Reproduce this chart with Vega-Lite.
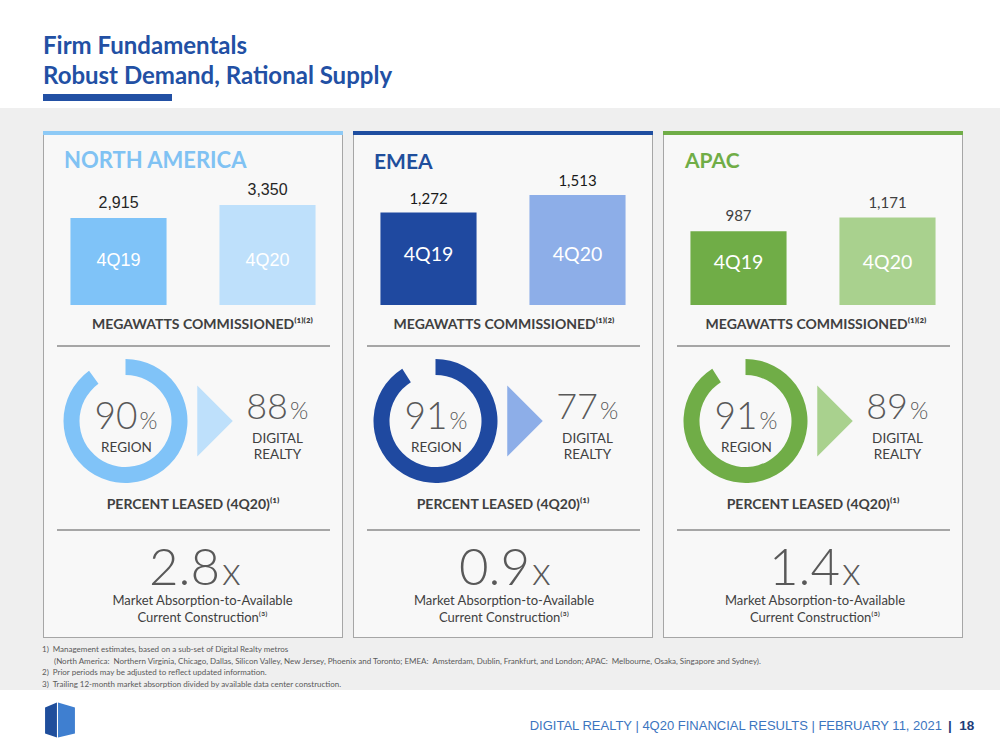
{
  "$schema": "https://vega.github.io/schema/vega-lite/v6.json",
  "background": "white",
  "padding": {"top": 35, "left": 0, "right": 0, "bottom": 0},
  "title": {"text": ["Firm Fundamentals", "Robust Demand, Rational Supply"], "anchor": "start", "frame": "bounds", "dx": 43, "offset": 5, "fontSize": 24, "fontWeight": "bold", "color": "#2250a4", "lineHeight": 30, "font": "Lato"},
  "config": {"view": {"stroke": null}, "font": "Lato", "concat": {"spacing": 0}},
  "datasets": {
    "bars": [
      {"region": "North America", "quarter": "4Q19", "mw": 2915},
      {"region": "North America", "quarter": "4Q20", "mw": 3350},
      {"region": "EMEA", "quarter": "4Q19", "mw": 1272},
      {"region": "EMEA", "quarter": "4Q20", "mw": 1513},
      {"region": "APAC", "quarter": "4Q19", "mw": 987},
      {"region": "APAC", "quarter": "4Q20", "mw": 1171}
    ],
    "leased": [
      {"region": "North America", "part": "Region", "pct": 90},
      {"region": "North America", "part": "Remaining", "pct": 10},
      {"region": "EMEA", "part": "Region", "pct": 91},
      {"region": "EMEA", "part": "Remaining", "pct": 9},
      {"region": "APAC", "part": "Region", "pct": 91},
      {"region": "APAC", "part": "Remaining", "pct": 9}
    ],
    "stats": [
      {"region": "North America", "name": "NORTH AMERICA", "region_leased": 90, "dlr_leased": 88, "absorption": 2.8},
      {"region": "EMEA", "name": "EMEA", "region_leased": 91, "dlr_leased": 77, "absorption": 0.9},
      {"region": "APAC", "name": "APAC", "region_leased": 91, "dlr_leased": 89, "absorption": 1.4}
    ]
  },
  "spacing": 0,
  "vconcat": [
    {"spacing": 0, "hconcat": [
      {"width": 43, "height": 7, "data": {"values": []}, "mark": "rect"},
      {"width": 129, "height": 7, "data": {"values": []}, "mark": "rect", "view": {"fill": "#2250a4"}}
    ]},
    {"width": 1000, "height": 7, "data": {"values": []}, "mark": "rect"},
    {"width": 1000, "height": 23, "data": {"values": []}, "mark": "rect", "view": {"fill": "#efefef"}},
    {"spacing": 0, "hconcat": [
      {"width": 43, "height": 507, "data": {"values": []}, "mark": "rect", "view": {"fill": "#efefef"}},
      {"spacing": 0, "vconcat": [
        {"width": 300, "height": 4, "data": {"values": []}, "mark": "rect", "view": {"fill": "#8ecaf6"}},
        {"spacing": 0, "hconcat": [
          {"width": 1, "height": 502, "data": {"values": []}, "mark": "rect", "view": {"fill": "#a6a6a6"}},
          {"spacing": 0, "vconcat": [
            {"width": 298, "height": 170, "view": {"fill": "#f8f8f8"}, "layer": [
              {"data": {"name": "bars"}, "transform": [{"filter": "datum.region === 'North America'"}],
               "mark": {"type": "bar", "width": {"band": 0.645}},
               "encoding": {
                 "x": {"field": "quarter", "type": "nominal", "sort": ["4Q19", "4Q20"], "scale": {"paddingInner": 0, "paddingOuter": 0}, "axis": {"title": null, "labels": false, "ticks": false, "domainColor": "#595959", "domainWidth": 1, "grid": false}},
                 "y": {"field": "mw", "type": "quantitative", "scale": {"domain": [0, 5695], "nice": false}, "axis": null},
                 "color": {"condition": {"test": "datum.quarter === '4Q19'", "value": "#7fc3f8"}, "value": "#bee0fb"}}},
              {"data": {"name": "bars"}, "transform": [{"filter": "datum.region === 'North America'"}],
               "mark": {"type": "text", "baseline": "middle", "dy": -15, "font": "Liberation Sans", "fontSize": 16, "color": "#262626"},
               "encoding": {"x": {"field": "quarter", "type": "nominal", "sort": ["4Q19", "4Q20"]}, "y": {"field": "mw", "type": "quantitative"}, "text": {"field": "mw", "type": "quantitative", "format": ","}}},
              {"data": {"name": "bars"}, "transform": [{"filter": "datum.region === 'North America'"}],
               "mark": {"type": "text", "baseline": "middle", "dy": -44.5, "font": "Liberation Sans", "fontSize": 18, "color": "white"},
               "encoding": {"x": {"field": "quarter", "type": "nominal", "sort": ["4Q19", "4Q20"]}, "y": {"datum": 0, "type": "quantitative"}, "text": {"field": "quarter", "type": "nominal"}}},
              {"data": {"name": "stats"}, "transform": [{"filter": "datum.region === 'North America'"}],
               "mark": {"type": "text", "align": "left", "baseline": "middle", "dx": 20, "dy": 26, "fontSize": 22, "fontWeight": "bold", "color": "#80c2f3"},
               "encoding": {"x": {"datum": "4Q19", "type": "nominal", "bandPosition": 0}, "y": {"datum": 5695, "type": "quantitative"}, "text": {"field": "name", "type": "nominal"}}}
            ]},
            {"width": 298, "height": 40, "view": {"fill": "#f8f8f8"}, "data": {"values": [{}]}, "mark": {"type": "text", "text": "MEGAWATTS COMMISSIONED⁽¹⁾⁽²⁾", "fontSize": 14, "fontWeight": "bold", "color": "#404040", "baseline": "middle", "dx": 9.5}},
            {"spacing": 0, "hconcat": [
              {"width": 13, "height": 2, "data": {"values": []}, "mark": "rect", "view": {"fill": "#f8f8f8"}},
              {"width": 273, "height": 2, "data": {"values": []}, "mark": "rect", "view": {"fill": "#a6a6a6"}},
              {"width": 12, "height": 2, "data": {"values": []}, "mark": "rect", "view": {"fill": "#f8f8f8"}}
            ]},
            {"spacing": 0, "hconcat": [
              {"width": 10, "height": 148, "data": {"values": []}, "mark": "rect", "view": {"fill": "#f8f8f8"}},
              {"width": 143, "height": 148, "view": {"fill": "#f8f8f8"}, "layer": [
                {"data": {"name": "leased"}, "transform": [{"filter": "datum.region === 'North America'"}],
                 "mark": {"type": "arc", "radius": 62, "radius2": 46},
                 "encoding": {"theta": {"field": "pct", "type": "quantitative", "stack": true}, "detail": {"field": "part", "type": "nominal"}, "order": {"field": "pct", "type": "quantitative", "sort": "descending"}, "color": {"condition": {"test": "datum.part === 'Region'", "value": "#80c3f8"}, "value": "transparent"}}},
                {"data": {"name": "stats"}, "transform": [{"filter": "datum.region === 'North America'"}],
                 "mark": {"type": "text", "align": "right", "baseline": "alphabetic", "dx": 12, "dy": 8, "fontSize": 37, "fontWeight": 300, "color": "#595959"},
                 "encoding": {"text": {"field": "region_leased", "type": "quantitative"}}},
                {"data": {"values": [{}]}, "mark": {"type": "text", "text": "%", "align": "left", "baseline": "alphabetic", "dx": 14, "dy": 8, "fontSize": 23, "fontWeight": 300, "color": "#595959"}},
                {"data": {"values": [{}]}, "mark": {"type": "text", "text": "REGION", "baseline": "middle", "dx": 1, "dy": 26.5, "fontSize": 13.5, "color": "#404040"}}
              ]},
              {"width": 36, "height": 148, "view": {"fill": "#f8f8f8"}, "data": {"values": [{}]}, "mark": {"type": "point", "shape": "M-0.5,-1L0.5,0L-0.5,1Z", "size": 5041, "filled": true, "opacity": 1, "color": "#bee0fb", "strokeWidth": 0}},
              {"width": 109, "height": 148, "view": {"fill": "#f8f8f8"}, "layer": [
                {"data": {"name": "stats"}, "transform": [{"filter": "datum.region === 'North America'"}],
                 "mark": {"type": "text", "align": "right", "baseline": "alphabetic", "dx": 0.5, "dy": -2.3, "fontSize": 36, "fontWeight": 300, "color": "#595959"},
                 "encoding": {"text": {"field": "dlr_leased", "type": "quantitative"}}},
                {"data": {"values": [{}]}, "mark": {"type": "text", "text": "%", "align": "left", "baseline": "alphabetic", "dx": 2.5, "dy": -2.3, "fontSize": 23.5, "fontWeight": 300, "color": "#595959"}},
                {"data": {"values": [{}]}, "mark": {"type": "text", "text": "DIGITAL", "baseline": "middle", "dx": -10, "dy": 17.7, "fontSize": 13.5, "color": "#404040"}},
                {"data": {"values": [{}]}, "mark": {"type": "text", "text": "REALTY", "baseline": "middle", "dx": -10, "dy": 34, "fontSize": 13.5, "color": "#404040"}}
              ]}
            ]},
            {"width": 298, "height": 34, "view": {"fill": "#f8f8f8"}, "data": {"values": [{}]}, "mark": {"type": "text", "text": "PERCENT LEASED (4Q20)⁽¹⁾", "fontSize": 14, "fontWeight": "bold", "color": "#404040", "baseline": "middle", "dy": -7}},
            {"spacing": 0, "hconcat": [
              {"width": 13, "height": 2, "data": {"values": []}, "mark": "rect", "view": {"fill": "#f8f8f8"}},
              {"width": 273, "height": 2, "data": {"values": []}, "mark": "rect", "view": {"fill": "#a6a6a6"}},
              {"width": 12, "height": 2, "data": {"values": []}, "mark": "rect", "view": {"fill": "#f8f8f8"}}
            ]},
            {"width": 298, "height": 106, "view": {"fill": "#f8f8f8"}, "layer": [
              {"data": {"name": "stats"}, "transform": [{"filter": "datum.region === 'North America'"}],
               "mark": {"type": "text", "align": "right", "baseline": "alphabetic", "dx": 27, "dy": 1, "fontSize": 51, "fontWeight": 300, "color": "#595959"},
               "encoding": {"text": {"field": "absorption", "type": "quantitative", "format": ".1f"}}},
              {"data": {"values": [{}]}, "mark": {"type": "text", "text": "x", "align": "left", "baseline": "alphabetic", "dx": 29, "dy": 1, "fontSize": 40, "fontWeight": 300, "color": "#595959"}},
              {"data": {"values": [{}]}, "mark": {"type": "text", "text": "Market Absorption-to-Available", "baseline": "middle", "dx": 9.5, "dy": 17, "fontSize": 13, "color": "#404040"}},
              {"data": {"values": [{}]}, "mark": {"type": "text", "text": "Current Construction⁽³⁾", "baseline": "middle", "dx": 9.5, "dy": 34, "fontSize": 13, "color": "#404040"}}
            ]}
          ]},
          {"width": 1, "height": 502, "data": {"values": []}, "mark": "rect", "view": {"fill": "#a6a6a6"}}
        ]},
        {"width": 300, "height": 1, "data": {"values": []}, "mark": "rect", "view": {"fill": "#a6a6a6"}}
      ]},
      {"width": 10, "height": 507, "data": {"values": []}, "mark": "rect", "view": {"fill": "#efefef"}},
      {"spacing": 0, "vconcat": [
        {"width": 300, "height": 4, "data": {"values": []}, "mark": "rect", "view": {"fill": "#1f4ea0"}},
        {"spacing": 0, "hconcat": [
          {"width": 1, "height": 502, "data": {"values": []}, "mark": "rect", "view": {"fill": "#a6a6a6"}},
          {"spacing": 0, "vconcat": [
            {"width": 298, "height": 170, "view": {"fill": "#f8f8f8"}, "layer": [
              {"data": {"name": "bars"}, "transform": [{"filter": "datum.region === 'EMEA'"}],
               "mark": {"type": "bar", "width": {"band": 0.645}},
               "encoding": {
                 "x": {"field": "quarter", "type": "nominal", "sort": ["4Q19", "4Q20"], "scale": {"paddingInner": 0, "paddingOuter": 0}, "axis": {"title": null, "labels": false, "ticks": false, "domainColor": "#595959", "domainWidth": 1, "grid": false}},
                 "y": {"field": "mw", "type": "quantitative", "scale": {"domain": [0, 2338], "nice": false}, "axis": null},
                 "color": {"condition": {"test": "datum.quarter === '4Q19'", "value": "#1f49a0"}, "value": "#8daee8"}}},
              {"data": {"name": "bars"}, "transform": [{"filter": "datum.region === 'EMEA'"}],
               "mark": {"type": "text", "baseline": "middle", "dy": -13.5, "fontSize": 15, "color": "#1a1a1a"},
               "encoding": {"x": {"field": "quarter", "type": "nominal", "sort": ["4Q19", "4Q20"]}, "y": {"field": "mw", "type": "quantitative"}, "text": {"field": "mw", "type": "quantitative", "format": ","}}},
              {"data": {"name": "bars"}, "transform": [{"filter": "datum.region === 'EMEA'"}],
               "mark": {"type": "text", "baseline": "middle", "dy": -50.5, "fontSize": 19.5, "color": "white"},
               "encoding": {"x": {"field": "quarter", "type": "nominal", "sort": ["4Q19", "4Q20"]}, "y": {"datum": 0, "type": "quantitative"}, "text": {"field": "quarter", "type": "nominal"}}},
              {"data": {"name": "stats"}, "transform": [{"filter": "datum.region === 'EMEA'"}],
               "mark": {"type": "text", "align": "left", "baseline": "middle", "dx": 20, "dy": 27.5, "fontSize": 21, "fontWeight": "bold", "color": "#1f4e9c"},
               "encoding": {"x": {"datum": "4Q19", "type": "nominal", "bandPosition": 0}, "y": {"datum": 2338, "type": "quantitative"}, "text": {"field": "name", "type": "nominal"}}}
            ]},
            {"width": 298, "height": 40, "view": {"fill": "#f8f8f8"}, "data": {"values": [{}]}, "mark": {"type": "text", "text": "MEGAWATTS COMMISSIONED⁽¹⁾⁽²⁾", "fontSize": 14, "fontWeight": "bold", "color": "#404040", "baseline": "middle", "dx": 1}},
            {"spacing": 0, "hconcat": [
              {"width": 13, "height": 2, "data": {"values": []}, "mark": "rect", "view": {"fill": "#f8f8f8"}},
              {"width": 273, "height": 2, "data": {"values": []}, "mark": "rect", "view": {"fill": "#a6a6a6"}},
              {"width": 12, "height": 2, "data": {"values": []}, "mark": "rect", "view": {"fill": "#f8f8f8"}}
            ]},
            {"spacing": 0, "hconcat": [
              {"width": 10, "height": 148, "data": {"values": []}, "mark": "rect", "view": {"fill": "#f8f8f8"}},
              {"width": 143, "height": 148, "view": {"fill": "#f8f8f8"}, "layer": [
                {"data": {"name": "leased"}, "transform": [{"filter": "datum.region === 'EMEA'"}],
                 "mark": {"type": "arc", "radius": 62, "radius2": 46},
                 "encoding": {"theta": {"field": "pct", "type": "quantitative", "stack": true}, "detail": {"field": "part", "type": "nominal"}, "order": {"field": "pct", "type": "quantitative", "sort": "descending"}, "color": {"condition": {"test": "datum.part === 'Region'", "value": "#1f49a0"}, "value": "transparent"}}},
                {"data": {"name": "stats"}, "transform": [{"filter": "datum.region === 'EMEA'"}],
                 "mark": {"type": "text", "align": "right", "baseline": "alphabetic", "dx": 12, "dy": 8, "fontSize": 37, "fontWeight": 300, "color": "#595959"},
                 "encoding": {"text": {"field": "region_leased", "type": "quantitative"}}},
                {"data": {"values": [{}]}, "mark": {"type": "text", "text": "%", "align": "left", "baseline": "alphabetic", "dx": 14, "dy": 8, "fontSize": 23, "fontWeight": 300, "color": "#595959"}},
                {"data": {"values": [{}]}, "mark": {"type": "text", "text": "REGION", "baseline": "middle", "dx": 1, "dy": 26.5, "fontSize": 13.5, "color": "#404040"}}
              ]},
              {"width": 36, "height": 148, "view": {"fill": "#f8f8f8"}, "data": {"values": [{}]}, "mark": {"type": "point", "shape": "M-0.5,-1L0.5,0L-0.5,1Z", "size": 5041, "filled": true, "opacity": 1, "color": "#8daee8", "strokeWidth": 0}},
              {"width": 109, "height": 148, "view": {"fill": "#f8f8f8"}, "layer": [
                {"data": {"name": "stats"}, "transform": [{"filter": "datum.region === 'EMEA'"}],
                 "mark": {"type": "text", "align": "right", "baseline": "alphabetic", "dx": 0.5, "dy": -2.3, "fontSize": 36, "fontWeight": 300, "color": "#595959"},
                 "encoding": {"text": {"field": "dlr_leased", "type": "quantitative"}}},
                {"data": {"values": [{}]}, "mark": {"type": "text", "text": "%", "align": "left", "baseline": "alphabetic", "dx": 2.5, "dy": -2.3, "fontSize": 23.5, "fontWeight": 300, "color": "#595959"}},
                {"data": {"values": [{}]}, "mark": {"type": "text", "text": "DIGITAL", "baseline": "middle", "dx": -10, "dy": 17.7, "fontSize": 13.5, "color": "#404040"}},
                {"data": {"values": [{}]}, "mark": {"type": "text", "text": "REALTY", "baseline": "middle", "dx": -10, "dy": 34, "fontSize": 13.5, "color": "#404040"}}
              ]}
            ]},
            {"width": 298, "height": 34, "view": {"fill": "#f8f8f8"}, "data": {"values": [{}]}, "mark": {"type": "text", "text": "PERCENT LEASED (4Q20)⁽¹⁾", "fontSize": 14, "fontWeight": "bold", "color": "#404040", "baseline": "middle", "dy": -7}},
            {"spacing": 0, "hconcat": [
              {"width": 13, "height": 2, "data": {"values": []}, "mark": "rect", "view": {"fill": "#f8f8f8"}},
              {"width": 273, "height": 2, "data": {"values": []}, "mark": "rect", "view": {"fill": "#a6a6a6"}},
              {"width": 12, "height": 2, "data": {"values": []}, "mark": "rect", "view": {"fill": "#f8f8f8"}}
            ]},
            {"width": 298, "height": 106, "view": {"fill": "#f8f8f8"}, "layer": [
              {"data": {"name": "stats"}, "transform": [{"filter": "datum.region === 'EMEA'"}],
               "mark": {"type": "text", "align": "right", "baseline": "alphabetic", "dx": 27, "dy": 1, "fontSize": 51, "fontWeight": 300, "color": "#595959"},
               "encoding": {"text": {"field": "absorption", "type": "quantitative", "format": ".1f"}}},
              {"data": {"values": [{}]}, "mark": {"type": "text", "text": "x", "align": "left", "baseline": "alphabetic", "dx": 29, "dy": 1, "fontSize": 40, "fontWeight": 300, "color": "#595959"}},
              {"data": {"values": [{}]}, "mark": {"type": "text", "text": "Market Absorption-to-Available", "baseline": "middle", "dx": 1, "dy": 17, "fontSize": 13, "color": "#404040"}},
              {"data": {"values": [{}]}, "mark": {"type": "text", "text": "Current Construction⁽³⁾", "baseline": "middle", "dx": 1, "dy": 34, "fontSize": 13, "color": "#404040"}}
            ]}
          ]},
          {"width": 1, "height": 502, "data": {"values": []}, "mark": "rect", "view": {"fill": "#a6a6a6"}}
        ]},
        {"width": 300, "height": 1, "data": {"values": []}, "mark": "rect", "view": {"fill": "#a6a6a6"}}
      ]},
      {"width": 10, "height": 507, "data": {"values": []}, "mark": "rect", "view": {"fill": "#efefef"}},
      {"spacing": 0, "vconcat": [
        {"width": 300, "height": 4, "data": {"values": []}, "mark": "rect", "view": {"fill": "#70ad47"}},
        {"spacing": 0, "hconcat": [
          {"width": 1, "height": 502, "data": {"values": []}, "mark": "rect", "view": {"fill": "#a6a6a6"}},
          {"spacing": 0, "vconcat": [
            {"width": 298, "height": 170, "view": {"fill": "#f8f8f8"}, "layer": [
              {"data": {"name": "bars"}, "transform": [{"filter": "datum.region === 'APAC'"}],
               "mark": {"type": "bar", "width": {"band": 0.645}},
               "encoding": {
                 "x": {"field": "quarter", "type": "nominal", "sort": ["4Q19", "4Q20"], "scale": {"paddingInner": 0, "paddingOuter": 0}, "axis": {"title": null, "labels": false, "ticks": false, "domainColor": "#595959", "domainWidth": 1, "grid": false}},
                 "y": {"field": "mw", "type": "quantitative", "scale": {"domain": [0, 2278], "nice": false}, "axis": null},
                 "color": {"condition": {"test": "datum.quarter === '4Q19'", "value": "#70ad47"}, "value": "#a9d18e"}}},
              {"data": {"name": "bars"}, "transform": [{"filter": "datum.region === 'APAC'"}],
               "mark": {"type": "text", "baseline": "middle", "dy": -15, "fontSize": 15, "color": "#404040"},
               "encoding": {"x": {"field": "quarter", "type": "nominal", "sort": ["4Q19", "4Q20"]}, "y": {"field": "mw", "type": "quantitative"}, "text": {"field": "mw", "type": "quantitative", "format": ","}}},
              {"data": {"name": "bars"}, "transform": [{"filter": "datum.region === 'APAC'"}],
               "mark": {"type": "text", "baseline": "middle", "dy": -42, "fontSize": 19.5, "color": "white"},
               "encoding": {"x": {"field": "quarter", "type": "nominal", "sort": ["4Q19", "4Q20"]}, "y": {"datum": 0, "type": "quantitative"}, "text": {"field": "quarter", "type": "nominal"}}},
              {"data": {"name": "stats"}, "transform": [{"filter": "datum.region === 'APAC'"}],
               "mark": {"type": "text", "align": "left", "baseline": "middle", "dx": 21, "dy": 27, "fontSize": 21, "fontWeight": "bold", "color": "#70ad47"},
               "encoding": {"x": {"datum": "4Q19", "type": "nominal", "bandPosition": 0}, "y": {"datum": 2278, "type": "quantitative"}, "text": {"field": "name", "type": "nominal"}}}
            ]},
            {"width": 298, "height": 40, "view": {"fill": "#f8f8f8"}, "data": {"values": [{}]}, "mark": {"type": "text", "text": "MEGAWATTS COMMISSIONED⁽¹⁾⁽²⁾", "fontSize": 14, "fontWeight": "bold", "color": "#404040", "baseline": "middle", "dx": 3}},
            {"spacing": 0, "hconcat": [
              {"width": 13, "height": 2, "data": {"values": []}, "mark": "rect", "view": {"fill": "#f8f8f8"}},
              {"width": 273, "height": 2, "data": {"values": []}, "mark": "rect", "view": {"fill": "#a6a6a6"}},
              {"width": 12, "height": 2, "data": {"values": []}, "mark": "rect", "view": {"fill": "#f8f8f8"}}
            ]},
            {"spacing": 0, "hconcat": [
              {"width": 10, "height": 148, "data": {"values": []}, "mark": "rect", "view": {"fill": "#f8f8f8"}},
              {"width": 143, "height": 148, "view": {"fill": "#f8f8f8"}, "layer": [
                {"data": {"name": "leased"}, "transform": [{"filter": "datum.region === 'APAC'"}],
                 "mark": {"type": "arc", "radius": 62, "radius2": 46},
                 "encoding": {"theta": {"field": "pct", "type": "quantitative", "stack": true}, "detail": {"field": "part", "type": "nominal"}, "order": {"field": "pct", "type": "quantitative", "sort": "descending"}, "color": {"condition": {"test": "datum.part === 'Region'", "value": "#70ad47"}, "value": "transparent"}}},
                {"data": {"name": "stats"}, "transform": [{"filter": "datum.region === 'APAC'"}],
                 "mark": {"type": "text", "align": "right", "baseline": "alphabetic", "dx": 12, "dy": 8, "fontSize": 37, "fontWeight": 300, "color": "#595959"},
                 "encoding": {"text": {"field": "region_leased", "type": "quantitative"}}},
                {"data": {"values": [{}]}, "mark": {"type": "text", "text": "%", "align": "left", "baseline": "alphabetic", "dx": 14, "dy": 8, "fontSize": 23, "fontWeight": 300, "color": "#595959"}},
                {"data": {"values": [{}]}, "mark": {"type": "text", "text": "REGION", "baseline": "middle", "dx": 1, "dy": 26.5, "fontSize": 13.5, "color": "#404040"}}
              ]},
              {"width": 36, "height": 148, "view": {"fill": "#f8f8f8"}, "data": {"values": [{}]}, "mark": {"type": "point", "shape": "M-0.5,-1L0.5,0L-0.5,1Z", "size": 5041, "filled": true, "opacity": 1, "color": "#a9d18e", "strokeWidth": 0}},
              {"width": 109, "height": 148, "view": {"fill": "#f8f8f8"}, "layer": [
                {"data": {"name": "stats"}, "transform": [{"filter": "datum.region === 'APAC'"}],
                 "mark": {"type": "text", "align": "right", "baseline": "alphabetic", "dx": 0.5, "dy": -2.3, "fontSize": 36, "fontWeight": 300, "color": "#595959"},
                 "encoding": {"text": {"field": "dlr_leased", "type": "quantitative"}}},
                {"data": {"values": [{}]}, "mark": {"type": "text", "text": "%", "align": "left", "baseline": "alphabetic", "dx": 2.5, "dy": -2.3, "fontSize": 23.5, "fontWeight": 300, "color": "#595959"}},
                {"data": {"values": [{}]}, "mark": {"type": "text", "text": "DIGITAL", "baseline": "middle", "dx": -10, "dy": 17.7, "fontSize": 13.5, "color": "#404040"}},
                {"data": {"values": [{}]}, "mark": {"type": "text", "text": "REALTY", "baseline": "middle", "dx": -10, "dy": 34, "fontSize": 13.5, "color": "#404040"}}
              ]}
            ]},
            {"width": 298, "height": 34, "view": {"fill": "#f8f8f8"}, "data": {"values": [{}]}, "mark": {"type": "text", "text": "PERCENT LEASED (4Q20)⁽¹⁾", "fontSize": 14, "fontWeight": "bold", "color": "#404040", "baseline": "middle", "dy": -7}},
            {"spacing": 0, "hconcat": [
              {"width": 13, "height": 2, "data": {"values": []}, "mark": "rect", "view": {"fill": "#f8f8f8"}},
              {"width": 273, "height": 2, "data": {"values": []}, "mark": "rect", "view": {"fill": "#a6a6a6"}},
              {"width": 12, "height": 2, "data": {"values": []}, "mark": "rect", "view": {"fill": "#f8f8f8"}}
            ]},
            {"width": 298, "height": 106, "view": {"fill": "#f8f8f8"}, "layer": [
              {"data": {"name": "stats"}, "transform": [{"filter": "datum.region === 'APAC'"}],
               "mark": {"type": "text", "align": "right", "baseline": "alphabetic", "dx": 27, "dy": 1, "fontSize": 51, "fontWeight": 300, "color": "#595959"},
               "encoding": {"text": {"field": "absorption", "type": "quantitative", "format": ".1f"}}},
              {"data": {"values": [{}]}, "mark": {"type": "text", "text": "x", "align": "left", "baseline": "alphabetic", "dx": 29, "dy": 1, "fontSize": 40, "fontWeight": 300, "color": "#595959"}},
              {"data": {"values": [{}]}, "mark": {"type": "text", "text": "Market Absorption-to-Available", "baseline": "middle", "dx": 2, "dy": 17, "fontSize": 13, "color": "#404040"}},
              {"data": {"values": [{}]}, "mark": {"type": "text", "text": "Current Construction⁽³⁾", "baseline": "middle", "dx": 2, "dy": 34, "fontSize": 13, "color": "#404040"}}
            ]}
          ]},
          {"width": 1, "height": 502, "data": {"values": []}, "mark": "rect", "view": {"fill": "#a6a6a6"}}
        ]},
        {"width": 300, "height": 1, "data": {"values": []}, "mark": "rect", "view": {"fill": "#a6a6a6"}}
      ]},
      {"width": 37, "height": 507, "data": {"values": []}, "mark": "rect", "view": {"fill": "#efefef"}}
    ]},
    {"width": 1000, "height": 52, "view": {"fill": "#efefef"}, "data": {"values": [{}]}, "layer": [
      {"mark": {"type": "text", "align": "left", "baseline": "alphabetic", "dx": -458, "dy": -12, "fontSize": 8, "color": "#595959", "text": "1)\u2002Management estimates, based on a sub-set of Digital Realty metros"}},
      {"mark": {"type": "text", "align": "left", "baseline": "alphabetic", "dx": -446, "dy": -0.3, "fontSize": 8, "color": "#595959", "text": "(North America:\u2002Northern Virginia, Chicago, Dallas, Silicon Valley, New Jersey, Phoenix and Toronto; EMEA:\u2002Amsterdam, Dublin, Frankfurt, and London; APAC:\u2002Melbourne, Osaka, Singapore and Sydney)."}},
      {"mark": {"type": "text", "align": "left", "baseline": "alphabetic", "dx": -458, "dy": 11.4, "fontSize": 8, "color": "#595959", "text": "2)\u2002Prior periods may be adjusted to reflect updated information."}},
      {"mark": {"type": "text", "align": "left", "baseline": "alphabetic", "dx": -458, "dy": 23.1, "fontSize": 8, "color": "#595959", "text": "3)\u2002Trailing 12-month market absorption divided by available data center construction."}}
    ]},
    {"spacing": 0, "hconcat": [
      {"width": 120, "height": 60, "data": {"values": [{}]}, "layer": [
        {"mark": {"type": "point", "shape": "M-0.83,-0.69L-0.17,-0.97L-0.17,0.97L-0.83,0.75Z", "size": 1296, "filled": true, "opacity": 1, "color": "#1f4e9c", "strokeWidth": 0}},
        {"mark": {"type": "point", "shape": "M-0.11,-0.97L0.83,-0.69L0.83,0.75L-0.11,0.97Z", "size": 1296, "filled": true, "opacity": 1, "color": "#3f7fd0", "strokeWidth": 0}}
      ]},
      {"width": 880, "height": 60, "data": {"values": [{}]}, "layer": [
        {"mark": {"type": "text", "text": "DIGITAL REALTY | 4Q20 FINANCIAL RESULTS | FEBRUARY 11, 2021", "align": "right", "baseline": "middle", "dx": 382, "dy": 5.7, "font": "Liberation Sans", "fontSize": 13, "color": "#3c75c0"}},
        {"mark": {"type": "text", "text": "|\u00a0\u00a018", "align": "left", "baseline": "middle", "dx": 388, "dy": 5.7, "font": "Liberation Sans", "fontSize": 13.5, "fontWeight": "bold", "color": "#1f3d7a"}}
      ]}
    ]}
  ]
}
